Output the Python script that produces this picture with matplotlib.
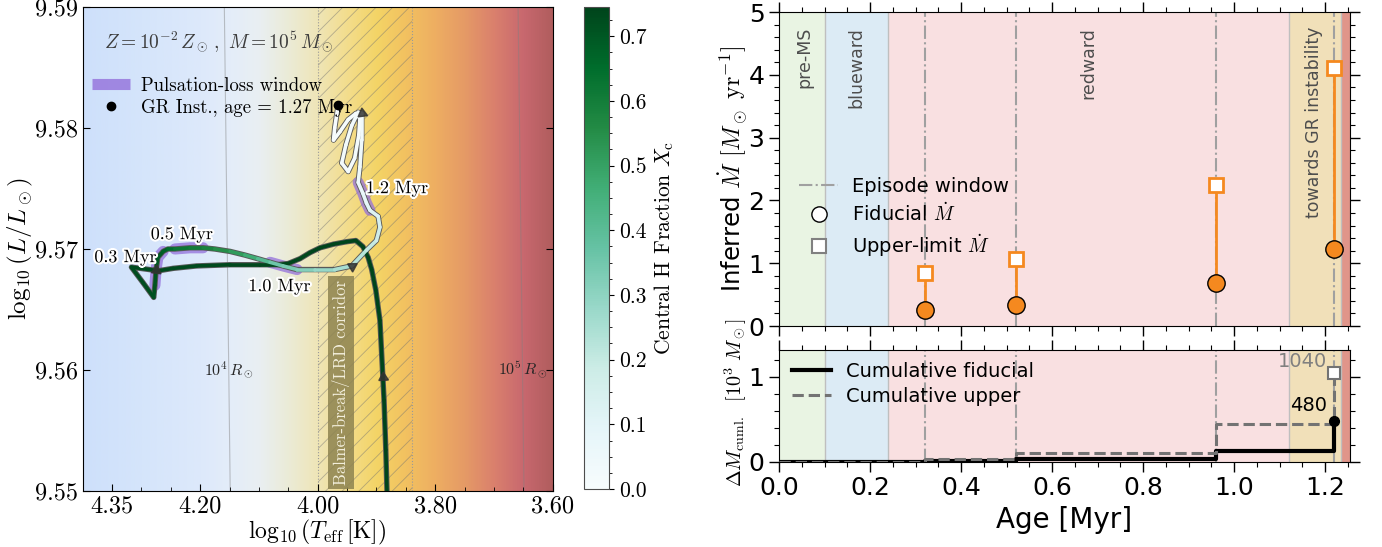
import numpy as np
import matplotlib
matplotlib.use('Agg')
import matplotlib.pyplot as plt
from matplotlib.collections import LineCollection
from matplotlib.colors import LinearSegmentedColormap, Normalize
import matplotlib.patheffects as pe
from matplotlib.lines import Line2D
from matplotlib.ticker import MultipleLocator, FixedLocator, FormatStrFormatter

plt.rcParams['mathtext.fontset'] = 'cm'
plt.rcParams['axes.unicode_minus'] = False
plt.rcParams['hatch.linewidth'] = 0.6

SERIF = 'cmr10'

# ---------------- HR track data ----------------
track_logT = [3.882, 3.884, 3.887, 3.889, 3.894, 3.901, 3.908, 3.914, 3.923, 3.935,
              3.951, 3.973, 3.996, 4.013, 4.030, 4.050, 4.070, 4.098, 4.149, 4.206,
              4.246, 4.271, 4.317,
              4.297, 4.279, 4.277, 4.275, 4.272, 4.263, 4.255, 4.243, 4.217, 4.195,
              4.175, 4.149, 4.124, 4.102, 4.081, 4.059, 4.035, 4.005, 3.971, 3.942,
              3.917, 3.900, 3.894, 3.897, 3.911, 3.917, 3.923, 3.931,
              3.928, 3.925, 3.925, 3.931, 3.942, 3.952, 3.959, 3.948, 3.937, 3.930,
              3.928, 3.935, 3.948, 3.962, 3.973, 3.971, 3.965]
track_logL = [9.5500, 9.5534, 9.5575, 9.5594, 9.5641, 9.5666, 9.5683, 9.5693, 9.5702, 9.5707,
              9.5706, 9.5704, 9.5701, 9.5697, 9.5692, 9.5688, 9.5687, 9.5687, 9.5687, 9.5686,
              9.5684, 9.5682, 9.5685,
              9.5672, 9.5660, 9.5670, 9.5683, 9.5693, 9.5698, 9.5700, 9.5700, 9.5701, 9.5701,
              9.5700, 9.5698, 9.5695, 9.5692, 9.5689, 9.5686, 9.5683, 9.5683, 9.5683, 9.5686,
              9.5699, 9.5707, 9.5718, 9.5727, 9.5732, 9.5738, 9.5746, 9.5755,
              9.5768, 9.5790, 9.5812, 9.5813, 9.5802, 9.5786, 9.5771, 9.5764, 9.5775, 9.5794,
              9.5808, 9.5812, 9.5807, 9.5797, 9.5790, 9.5800, 9.5819]
track_age = [0.000, 0.012, 0.025, 0.035, 0.050, 0.062, 0.072, 0.082, 0.092, 0.100,
             0.108, 0.116, 0.125, 0.133, 0.141, 0.150, 0.158, 0.168, 0.185, 0.203,
             0.217, 0.226, 0.240,
             0.255, 0.270, 0.290, 0.310, 0.330, 0.350, 0.400, 0.490, 0.520, 0.550,
             0.600, 0.660, 0.720, 0.800, 0.930, 0.960, 0.990, 1.020, 1.050, 1.070,
             1.090, 1.110, 1.130, 1.150, 1.170, 1.190, 1.215, 1.240,
             1.250, 1.253, 1.256, 1.257, 1.259, 1.261, 1.262, 1.263, 1.264, 1.265,
             1.266, 1.2665, 1.267, 1.268, 1.269, 1.2695, 1.270]
track_Xc = [0.745, 0.745, 0.745, 0.745, 0.745, 0.745, 0.745, 0.744, 0.744, 0.743,
            0.742, 0.741, 0.740, 0.739, 0.738, 0.737, 0.736, 0.735, 0.733, 0.731,
            0.729, 0.728, 0.726,
            0.723, 0.718, 0.712, 0.705, 0.698, 0.690, 0.668, 0.625, 0.610, 0.595,
            0.570, 0.535, 0.495, 0.445, 0.370, 0.350, 0.330, 0.300, 0.265, 0.240,
            0.215, 0.190, 0.165, 0.140, 0.115, 0.095, 0.075, 0.055,
            0.045, 0.040, 0.036, 0.034, 0.030, 0.027, 0.024, 0.021, 0.018, 0.015,
            0.012, 0.010, 0.008, 0.005, 0.003, 0.001, 0.000]

window_ages = [(0.29, 0.35), (0.49, 0.55), (0.93, 0.99), (1.17, 1.24)]
window_labels = ['0.3 Myr', '0.5 Myr', '1.0 Myr', '1.2 Myr']
window_label_pos = [(4.327, 9.5693), (4.231, 9.5712), (4.065, 9.5669), (3.865, 9.5750)]
arrow_ages = [0.035, 0.310, 1.070, 1.256]
gr_age = 1.27
corridor = (3.84, 4.00)
radius_lines = [1e4, 1e5]
xc_max = 0.745

# background temperature colour scale
bg_logT = [3.60, 3.65, 3.70, 3.75, 3.80, 3.85, 3.90, 3.95, 4.00, 4.05, 4.10, 4.15, 4.20, 4.30, 4.40]
bg_cols = ['#b05d5d', '#c8686f', '#da806d', '#e59a66', '#eeae62', '#f2c160', '#f4d466',
           '#f3dd8c', '#efe5b6', '#ebebd6', '#e9eff2', '#e4edf9', '#dde9fb', '#d5e5fb', '#cee0fb']

# ---------------- Mass-loss data ----------------
phase_names = ['pre-MS', 'blueward', 'redward', 'towards GR instability', '']
phase_edges = [0.0, 0.10, 0.24, 1.12, 1.235, 1.255]
phase_colors = ['#e9f4e3', '#dcebf5', '#f9e0e1', '#f1e0b9', '#e0958a']
phase_label_x = [0.055, 0.17, 0.68, 1.176]
episode_age = [0.32, 0.52, 0.96, 1.22]
mdot_fid = [0.26, 0.33, 0.68, 1.23]
mdot_up = [0.84, 1.07, 2.24, 4.11]
cum_age = [0.0, 0.32, 0.52, 0.96, 1.22]
cum_fid = [0.0, 0.008, 0.027, 0.13, 0.48]
cum_up = [0.0, 0.031, 0.098, 0.44, 1.04]

ORANGE = '#f5891f'

fig = plt.figure(figsize=(13.82, 5.47), dpi=100)
ax = fig.add_axes([0.0598, 0.1024, 0.3401, 0.8848])
cax = fig.add_axes([0.4226, 0.106, 0.0181, 0.881])
axt = fig.add_axes([0.5637, 0.404, 0.4132, 0.574])
axb = fig.add_axes([0.5637, 0.156, 0.4132, 0.205], sharex=axt)

# ================= LEFT PANEL =================
T = np.array(track_logT)
L = np.array(track_logL)
age = np.array(track_age)
Xc = np.array(track_Xc)

pos = np.clip(np.round((np.array(bg_logT) - 3.60) / 0.80, 6), 0, 1)
pos[0], pos[-1] = 0.0, 1.0
bg_cmap = LinearSegmentedColormap.from_list('bg', list(zip(pos, bg_cols)))
grad = np.linspace(3.60, 4.40, 600)[None, :]
ax.imshow(grad, extent=[3.60, 4.40, 9.55, 9.59], origin='lower', aspect='auto',
          cmap=bg_cmap, norm=Normalize(3.60, 4.40), zorder=0, interpolation='bilinear')
ax.set_xlim(4.40, 3.60)
ax.set_ylim(9.55, 9.59)

# corridor
ax.axvspan(corridor[0], corridor[1], facecolor='none', edgecolor=(0.45, 0.45, 0.45, 0.5),
           hatch='//', lw=0, zorder=1)
for c in corridor:
    ax.axvline(c, color='0.6', ls=':', lw=0.8, zorder=1)
ax.text(0.5 * (corridor[0] + corridor[1]) + 0.04, 9.5505, 'Balmer-break/LRD corridor',
        rotation=90, ha='center', va='bottom', fontsize=12, family=SERIF, color='#f3efdc',
        bbox=dict(boxstyle='square,pad=0.22', facecolor='#8d8350', edgecolor='none', alpha=0.85),
        zorder=2)

# constant radius lines
logTsun = np.log10(5772.0)
for R in radius_lines:
    Lline = np.array([9.55, 9.59])
    Tline = (Lline - 2 * np.log10(R)) / 4 + logTsun
    ax.plot(Tline, Lline, color='0.5', lw=0.8, alpha=0.45, zorder=1)
    Tlab = (9.56 - 2 * np.log10(R)) / 4 + logTsun
    ax.text(Tlab, 9.56, r'$10^{%d}\,R_\odot$' % int(round(np.log10(R))), ha='center', va='center',
            fontsize=11.5, color='0.15', zorder=2)

# pulsation windows
for (a0, a1) in window_ages:
    m = (age >= a0 - 1e-9) & (age <= a1 + 1e-9)
    ax.plot(T[m], L[m], color='#9370DB', lw=8, alpha=0.75, solid_capstyle='round',
            solid_joinstyle='round', zorder=3)

# track
ax.plot(T, L, color='0.35', lw=3.9, solid_joinstyle='round', solid_capstyle='round', zorder=4)
norm = Normalize(0.0, xc_max)
pts = np.column_stack([T, L])
segs = np.stack([pts[:-1], pts[1:]], axis=1)
lc = LineCollection(segs, cmap='BuGn', norm=norm, linewidths=2.6, zorder=5,
                    capstyle='round', joinstyle='round')
lc.set_array(0.5 * (Xc[:-1] + Xc[1:]))
ax.add_collection(lc)

# direction arrows
for a in arrow_ages:
    i = int(np.argmin(np.abs(age - a)))
    p0 = ax.transData.transform((T[i - 1], L[i - 1]))
    p1 = ax.transData.transform((T[i + 1], L[i + 1]))
    ang = np.degrees(np.arctan2(p1[1] - p0[1], p1[0] - p0[0]))
    ax.plot(T[i], L[i], marker=(3, 0, ang - 90), color='#333333', ms=8, alpha=0.85,
            ls='none', zorder=6)

# window labels
for lab, (tx, ty) in zip(window_labels, window_label_pos):
    ax.text(tx, ty, lab, ha='center', va='center', fontsize=13, family=SERIF, color='k',
            path_effects=[pe.withStroke(linewidth=3, foreground='white')], zorder=8)

# GR instability point
igr = int(np.argmin(np.abs(age - gr_age)))
ax.plot(T[igr], L[igr], 'o', color='k', ms=6, zorder=7)

ax.text(0.045, 0.928, r'$Z = 10^{-2}\,Z_\odot\,,\ M = 10^5\,M_\odot$', transform=ax.transAxes,
        ha='left', va='center', fontsize=14, color='#3c3c3c')

leg_handles = [Line2D([], [], color='#9370DB', lw=8, alpha=0.8, solid_capstyle='butt'),
               Line2D([], [], marker='o', color='k', ls='none', ms=6)]
ax.legend(leg_handles, ['Pulsation-loss window', 'GR Inst., age = %.2f Myr' % gr_age],
          loc='upper left', bbox_to_anchor=(-0.015, 0.89), frameon=False,
          prop={'family': SERIF, 'size': 13.5}, handlelength=2.0, handletextpad=0.6,
          labelspacing=0.2)

ax.xaxis.set_major_locator(FixedLocator([4.35, 4.20, 4.00, 3.80, 3.60]))
ax.xaxis.set_major_formatter(FormatStrFormatter('%.2f'))
ax.xaxis.set_minor_locator(MultipleLocator(0.05))
ax.yaxis.set_major_locator(MultipleLocator(0.01))
ax.yaxis.set_major_formatter(FormatStrFormatter('%.2f'))
ax.tick_params(which='both', direction='in', right=True, labelsize=17.5, labelfontfamily=SERIF)
ax.tick_params(which='major', length=5)
ax.tick_params(which='minor', length=3)
ax.set_xlabel(r'$\log_{10}(T_{\rm eff}\,[{\rm K}])$', fontsize=17, labelpad=0)
ax.set_ylabel(r'$\log_{10}(L/L_\odot)$', fontsize=18, labelpad=0)

# colorbar
sm = plt.cm.ScalarMappable(norm=norm, cmap='BuGn')
cb = fig.colorbar(sm, cax=cax)
cb.set_ticks(np.arange(0, 0.71, 0.1))
cb.ax.yaxis.set_major_formatter(FormatStrFormatter('%.1f'))
cb.ax.yaxis.set_minor_locator(MultipleLocator(0.025))
cb.outline.set_edgecolor('0.3')
cax.tick_params(labelsize=15.5, labelfontfamily=SERIF)
cax.tick_params(which='minor', length=2)
cb.set_label(r'Central H Fraction $X_{\rm c}$', fontsize=15.5, family=SERIF, labelpad=4)

# ================= RIGHT PANELS =================
for a in (axt, axb):
    for i in range(len(phase_colors)):
        a.axvspan(phase_edges[i], phase_edges[i + 1], color=phase_colors[i], lw=0, zorder=0)
    for e in phase_edges[1:-1]:
        a.axvline(e, color='0.75', lw=1.0, zorder=0.5)
    for x in episode_age:
        a.axvline(x, color='#a0a0a0', ls='-.', lw=1.5, zorder=1)

axt.vlines(episode_age, mdot_fid, mdot_up, color=ORANGE, lw=2, zorder=2)
axt.plot(episode_age, mdot_up, 's', mfc='white', mec=ORANGE, mew=2, ms=10.5, ls='none', zorder=3)
axt.plot(episode_age, mdot_fid, 'o', mfc=ORANGE, mec='k', mew=1, ms=12.5, ls='none', zorder=3)

for name, xc in zip(phase_names[:4], phase_label_x):
    axt.text(xc, 4.76, name, rotation=90, rotation_mode='anchor', ha='right', va='center',
             fontsize=12.5, color='0.3')

h_top = [Line2D([], [], color='#a0a0a0', ls='-.', lw=1.5),
         Line2D([], [], marker='o', mfc='white', mec='k', ls='none', ms=11),
         Line2D([], [], marker='s', mfc='white', mec='0.5', mew=1.5, ls='none', ms=10)]
axt.legend(h_top, ['Episode window', r'Fiducial $\dot{M}$', r'Upper-limit $\dot{M}$'],
           loc='center left', bbox_to_anchor=(0.005, 0.345), frameon=False, fontsize=14,
           labelspacing=0.35, handlelength=2.0, handletextpad=0.7)

axt.set_xlim(phase_edges[0], phase_edges[-1])
axt.set_ylim(0, 5)
axt.yaxis.set_major_locator(MultipleLocator(1))
axt.yaxis.set_minor_locator(MultipleLocator(0.2))
axt.xaxis.set_major_locator(MultipleLocator(0.2))
axt.xaxis.set_minor_locator(MultipleLocator(0.05))
axt.set_ylabel(r'Inferred $\dot{M}$ $[M_\odot\ \mathrm{yr}^{-1}]$', fontsize=17.5, labelpad=0)
axt.yaxis.set_label_coords(-0.052, 0.50)

axb.step(cum_age, cum_fid, where='post', color='k', lw=3, zorder=3)
axb.step(cum_age, cum_up, where='post', color='0.45', ls='--', lw=2.2, zorder=3)
axb.plot(cum_age[-1], cum_fid[-1], 'o', color='k', ms=7, zorder=4)
axb.plot(cum_age[-1], cum_up[-1], 's', mfc='white', mec='0.45', mew=1.5, ms=8, zorder=4)
axb.text(cum_age[-1] - 0.015, 1.18, '%d' % round(cum_up[-1] * 1000), ha='right', va='center',
         color='0.5', fontsize=14)
axb.text(cum_age[-1] - 0.015, 0.66, '%d' % round(cum_fid[-1] * 1000), ha='right', va='center',
         color='k', fontsize=14)
h_bot = [Line2D([], [], color='k', lw=3), Line2D([], [], color='0.45', ls='--', lw=2.2)]
axb.legend(h_bot, ['Cumulative fiducial', 'Cumulative upper'], loc='upper left',
           frameon=False, fontsize=14, labelspacing=0.3, handlelength=2.0,
           borderaxespad=0.25)
axb.set_ylim(0, 1.32)
axb.yaxis.set_major_locator(MultipleLocator(1))
axb.yaxis.set_minor_locator(MultipleLocator(0.2))
axb.set_xlabel('Age [Myr]', fontsize=20)
axb.set_ylabel(r'$\Delta M_{\rm cuml.}\ \ [10^3\ M_\odot]$', fontsize=14.5, labelpad=0)
axb.yaxis.set_label_coords(-0.052, 0.52)

for a in (axt, axb):
    a.tick_params(which='both', direction='out', top=True, right=True, labelsize=18)
    a.tick_params(which='major', length=7, width=1)
    a.tick_params(which='minor', length=3.5, width=0.8)
axt.tick_params(labelbottom=False)

fig.savefig('out.png', dpi=100)
